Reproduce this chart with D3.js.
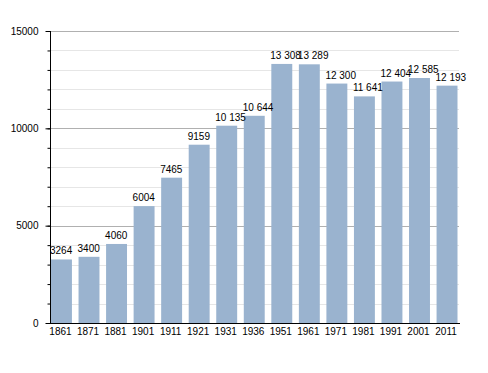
<!DOCTYPE html>
<html>
<head>
<meta charset="utf-8">
<script src="https://cdn.jsdelivr.net/npm/d3@7"></script>
<style>
  body { margin: 0; background: #fff; }
  svg text { font-family: "Liberation Sans", Arial, sans-serif; font-size: 10px; fill: #000; }
</style>
</head>
<body>
<svg id="chart" width="488" height="373"></svg>
<script>
var years = ["1861", "1871", "1881", "1901", "1911", "1921", "1931", "1936",
             "1951", "1961", "1971", "1981", "1991", "2001", "2011"];
var population = [3264, 3400, 4060, 6004, 7465, 9159, 10135, 10644,
                  13308, 13289, 12300, 11641, 12404, 12585, 12193];
var yTicks = [0, 5000, 10000, 15000];

var svg = d3.select("#chart");
var plotLeft = 50, plotRight = 459, plotTop = 31, plotBottom = 323;

var x = d3.scaleBand()
  .domain(years)
  .range([plotLeft + 1, 457.5])
  .paddingInner(0.24)
  .paddingOuter(0);

var y = d3.scaleLinear()
  .domain([0, 15000])
  .range([plotBottom, plotTop]);

// minor grid
svg.append("g").selectAll("line")
  .data(d3.range(1000, 15000, 1000).filter(function(v) { return v % 5000; }))
  .enter().append("line")
  .attr("x1", plotLeft).attr("x2", plotRight)
  .attr("y1", function(d) { return Math.round(y(d)) + 0.5; })
  .attr("y2", function(d) { return Math.round(y(d)) + 0.5; })
  .attr("stroke", "#e6e6e6");

// major grid
svg.append("g").selectAll("line")
  .data(yTicks.slice(1))
  .enter().append("line")
  .attr("x1", plotLeft).attr("x2", plotRight)
  .attr("y1", function(d) { return Math.round(y(d)) + 0.5; })
  .attr("y2", function(d) { return Math.round(y(d)) + 0.5; })
  .attr("stroke", "#b0b0b0");

// bars
svg.append("g").selectAll("rect")
  .data(population)
  .enter().append("rect")
  .attr("x", function(d, i) { return x(years[i]); })
  .attr("width", x.bandwidth())
  .attr("y", function(d) { return y(d); })
  .attr("height", function(d) { return y(0) - y(d); })
  .attr("fill", "#9ab3cf");

// value labels
var fmt = function(v) {
  return v >= 10000 ? d3.format(",")(v).replace(/,/g, " ") : String(v);
};
svg.append("g").selectAll("text")
  .data(population)
  .enter().append("text")
  .attr("x", function(d, i) { return x(years[i]) - 1; })
  .attr("y", function(d) { return y(d) - 5; })
  .text(fmt);

// y axis with minor ticks
var gy = svg.append("g").attr("transform", "translate(" + (plotLeft + 0.5) + ",0)");
gy.call(d3.axisLeft(y).tickValues(d3.range(0, 15001, 1000)).tickSize(3).tickFormat(""))
  .call(function(g) { g.select(".domain").remove(); });
gy.append("g").call(d3.axisLeft(y).tickValues(yTicks).tickSize(5).tickPadding(7).tickFormat(d3.format("d")))
  .call(function(g) { g.select(".domain").remove(); });
gy.selectAll("line").attr("stroke", "#000");
gy.selectAll("text").attr("font-size", null).attr("font-family", null).attr("fill", "#000");
gy.append("line").attr("x1", 0).attr("x2", 0).attr("y1", plotTop).attr("y2", plotBottom + 0.5).attr("stroke", "#000");

// x axis
var gx = svg.append("g").attr("transform", "translate(0," + (plotBottom + 0.5) + ")");
gx.call(d3.axisBottom(x).tickSize(0).tickPadding(4))
  .call(function(g) { g.select(".domain").remove(); });
gx.selectAll("text").attr("font-size", null).attr("font-family", null).attr("fill", "#000").attr("dx", "-1");
gx.append("line").attr("x1", plotLeft).attr("x2", plotRight + 1).attr("stroke", "#000");
</script>
</body>
</html>
